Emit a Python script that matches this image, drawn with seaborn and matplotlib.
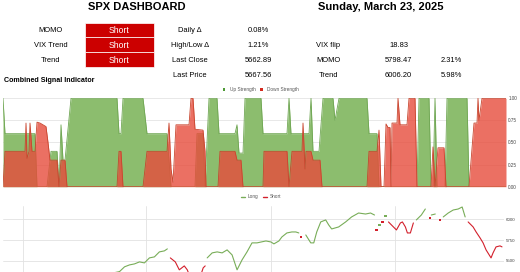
import numpy as np
import pandas as pd
import matplotlib
matplotlib.use("Agg")
import matplotlib.pyplot as plt
from matplotlib.patches import Rectangle
from matplotlib.lines import Line2D
import seaborn as sns

# header
title_left = "SPX DASHBOARD"
title_right = "Sunday, March 23, 2025"
signal_names = ["MOMO", "VIX Trend", "Trend"]
signal_values = ["Short", "Short", "Short"]
stat_names = ["Daily Δ", "High/Low Δ", "Last Close", "Last Price"]
stat_values = ["0.08%", "1.21%", "5662.89", "5667.56"]
level_names = ["VIX flip", "MOMO", "Trend"]
level_values = ["18.83", "5798.47", "6006.20"]
level_pct = ["", "2.31%", "5.98%"]

# combined signal indicator (x = trading day index)
up_day = [0, 1, 16, 17, 22, 24, 27, 28, 29, 30, 31, 34, 57, 58, 59, 60, 70, 72, 82, 84,
          96, 97, 100, 101, 103, 107, 108, 116, 117, 118, 120, 121, 129, 130, 142, 143,
          144, 153, 154, 155, 158, 160, 165, 166, 168, 182, 183, 187, 188, 207, 208, 213,
          214, 215, 216, 217, 221, 222, 232, 233, 251.5]
up_val = [1.0, 0.6, 0.6, 0.0, 0.0, 0.4, 0.4, 0.0, 0.7, 0.3, 0.3, 1.0, 1.0, 0.6, 0.6, 1.0,
          1.0, 0.6, 0.6, 0.0, 0.0, 0.6, 0.6, 0.0, 1.0, 1.0, 0.6, 0.6, 0.7, 0.38, 0.38, 1.0,
          1.0, 0.6, 0.6, 1.0, 0.6, 0.6, 1.0, 0.4, 0.4, 1.0, 1.0, 0.75, 1.0, 1.0, 0.6, 0.6,
          0.0, 0.0, 1.0, 1.0, 0.0, 0.0, 1.0, 0.0, 0.0, 1.0, 1.0, 0.0, 0.0]
down_day = [0, 1, 11, 11.5, 12, 13, 13.5, 14.5, 16, 17, 18.5, 20, 21.5, 22.5, 23.5, 27, 28,
            29, 31, 32, 57, 58, 59, 60, 70, 72, 82, 83, 84, 85, 86.5, 93, 94, 95, 96, 100,
            101, 101.5, 107.5, 108.5, 116, 117, 119, 120, 130, 130.5, 142, 143, 144.5,
            149.5, 150, 151, 151.5, 154, 155, 158.5, 159.5, 182, 183, 187, 188, 189, 190.5,
            191.5, 192.5, 193.5, 194, 194.5, 197, 197.5, 198.5, 202, 203, 206, 207, 214,
            215, 216, 217.5, 220.5, 221.5, 233, 235.5, 237, 237.5, 238, 239.5, 251.5]
down_val = [0.0, 0.4, 0.4, 0.72, 0.32, 0.4, 0.72, 0.4, 0.4, 0.73, 0.72, 0.7, 0.68, 0.5, 0.3,
            0.3, 0.0, 0.3, 0.3, 0.0, 0.0, 0.4, 0.4, 0.0, 0.0, 0.4, 0.4, 0.72, 0.2, 0.05, 0.7,
            0.7, 1.0, 1.0, 0.65, 0.64, 0.4, 0.0, 0.0, 0.4, 0.4, 0.3, 0.3, 0.0, 0.0, 0.4, 0.4,
            0.0, 0.4, 0.4, 0.72, 0.2, 0.4, 0.4, 0.3, 0.3, 0.0, 0.0, 0.4, 0.4, 0.64, 0.0, 0.0,
            0.71, 0.67, 0.67, 0.0, 0.72, 0.72, 1.0, 0.7, 0.7, 1.0, 1.0, 0.0, 0.0, 0.45, 0.0,
            0.44, 0.44, 0.0, 0.0, 0.72, 0.72, 1.0, 0.75, 1.0, 1.0]

# SPX close with Long / Short state
price_day = [0, 8, 16, 24, 32, 40, 48, 54, 58.5, 61, 63.5, 66, 68.5, 71, 73.5, 76, 78.5, 81,
             82.5, 84, 86.5, 88.5, 91, 92.5, 94.5, 96.5, 98.5, 100.5, 101.5, 102.5, 105,
             107.5, 110, 112.5, 115, 117.5, 120, 122.5, 125, 127.5, 132, 134.5, 136, 138.5,
             140, 142.5, 145, 147, 148.5, 149.5, 152, 154.5, 156, 157.5, 159.5, 162, 163.5,
             165, 168.5, 172, 175, 178.5, 182, 184.5, 186.5, 187.5, 189, 190.5, 192, 193.5,
             196, 197.5, 199.5, 200.5, 202, 203, 204.5, 206, 207.5, 210, 212, 214.5, 215,
             217, 219.5, 221, 223.5, 226, 228.5, 230.5, 232, 233.5, 236, 237.5, 239.5, 241,
             242.5, 245, 246, 247.5, 249.5, 250.5]
price_val = [5150, 5220, 5080, 5050, 5200, 5300, 5330, 5350, 5373, 5430, 5453, 5465, 5489,
             5477, 5537, 5549, 5609, 5621, 5645, 5537, 5489, 5394, 5441, 5394, 5274, 5154,
             5274, 5418, 5441, 5537, 5597, 5609, 5597, 5633, 5573, 5394, 5513, 5609, 5717,
             5717, 5740, 5728, 5705, 5740, 5788, 5836, 5848, 5848, 5836, 5788, 5812, 5717,
             5717, 5848, 5968, 5992, 5932, 5884, 5908, 5968, 6028, 6075, 6063, 6075, 6051,
             5872, 5932, 5968, 6039, 5968, 5908, 5872, 5956, 5968, 5908, 5836, 5836, 5956,
             5992, 6051, 6123, 6016, 6051, 6063, 5992, 6028, 6075, 6111, 6123, 6147, 6028,
             5968, 5908, 5848, 5776, 5717, 5633, 5537, 5597, 5669, 5681, 5669]
price_sig = list("LLLLLLLLLLLLLLLLLLL" "SSSSSSSSSS" "LLLLLLLLLLLLLLLLLLLL" "S"
                 "LLLLLLLLLLLLLLL" "S" "L" "S" "L" "SSSSSSSSS" "LLL" "S" "LL" "S"
                 "LLLLLL" "SSSSSSSSSSS")

quarter_days = [10, 72, 134.5, 197]
signal_ticks = [0, 0.25, 0.5, 0.75, 1.0]
price_ticks = [5500, 5750, 6000]

GREEN = "#8cbd6e"
RED = "#e74c3c"
LONG_C = "#78ad58"
SHORT_C = "#d3202c"
W, H = 520, 272

sns.set_theme(style="white")
plt.rcParams['font.family'] = ['Liberation Sans', 'DejaVu Sans']

fig = plt.figure(figsize=(W / 100, H / 100), dpi=100)


def P(x, y):
    return x / W, 1 - y / H


def txt(x, y, s, **kw):
    kw.setdefault("ha", "center")
    kw.setdefault("va", "center")
    kw.setdefault("fontsize", 5.4)
    fig.text(*P(x, y), s, color=kw.pop("color", "black"), **kw)


# header block
txt(137, 7.5, title_left, fontsize=8, fontweight="bold")
txt(381, 7.5, title_right, fontsize=8, fontweight="bold")
row_y = [30.7, 45.2, 60.4, 75.5]
for i, (n, v) in enumerate(zip(signal_names, signal_values)):
    top = 22.7 + i * 14.7
    fig.patches.append(Rectangle(P(85, top + 14.7), 69 / W, 14.7 / H, transform=fig.transFigure,
                                 facecolor="#cc0000", edgecolor="white", lw=0.5))
    txt(50.5, row_y[i], n)
    txt(119.5, row_y[i], v, color="white", fontsize=6.2)
for i, (n, v) in enumerate(zip(stat_names, stat_values)):
    txt(190, row_y[i], n)
    txt(258, row_y[i], v)
for i, (n, v, p) in enumerate(zip(level_names, level_values, level_pct)):
    txt(328.5, row_y[i + 1], n)
    txt(398.5, row_y[i + 1], v)
    if p:
        txt(451, row_y[i + 1], p)
txt(4, 80, "Combined Signal Indicator", ha="left", fontsize=5.1, fontweight="bold")

# legends
fig.patches.append(Rectangle(P(222.7, 90.6), 2.6 / W, 2.6 / H, transform=fig.transFigure,
                             facecolor="#4e9a36", lw=0))
txt(229.5, 89.3, "Up Strength", ha="left", fontsize=3.4, color="#555555")
fig.patches.append(Rectangle(P(260, 90.6), 2.6 / W, 2.6 / H, transform=fig.transFigure,
                             facecolor="#d42a1f", lw=0))
txt(267, 89.3, "Down Strength", ha="left", fontsize=3.4, color="#555555")
fig.lines.append(Line2D([240.7 / W, 245 / W], [1 - 196.7 / H] * 2, transform=fig.transFigure,
                        color=LONG_C, lw=1.0))
txt(247.5, 196.7, "Long", ha="left", fontsize=3.4, color="#555555")
fig.lines.append(Line2D([262.7 / W, 266.7 / W], [1 - 196.7 / H] * 2, transform=fig.transFigure,
                        color=SHORT_C, lw=1.0))
txt(270, 196.7, "Short", ha="left", fontsize=3.4, color="#555555")

# combined signal area chart
ax1 = fig.add_axes([3 / W, 1 - 186.7 / H, 503 / W, 88.4 / H])
ax1.fill_between(up_day, up_val, color=GREEN, lw=0, zorder=2)
sns.lineplot(x=up_day, y=up_val, ax=ax1, color="#6fa653", lw=0.6, estimator=None,
             sort=False, zorder=3)
ax1.fill_between(down_day, down_val, color=RED, alpha=0.8, lw=0, zorder=4)
sns.lineplot(x=down_day, y=down_val, ax=ax1, color="#c8452e", lw=0.6, estimator=None,
             sort=False, zorder=5)
ax1.set_xlim(0, 251.5)
ax1.set_ylim(0, 1)
ax1.set_xticks([])
ax1.yaxis.tick_right()
ax1.set_yticks(signal_ticks)
ax1.set_yticklabels([f"{t:.2f}" for t in signal_ticks])
ax1.tick_params(axis="y", length=0, pad=1.6, labelsize=3.3, labelcolor="#444444")
ax1.grid(axis="y", color="#e4e4e4", lw=0.6, zorder=0)
ax1.set_axisbelow(True)
ax1.set_xlabel("")
ax1.set_ylabel("")
for s in ax1.spines.values():
    s.set_visible(False)

# price chart with long/short segments
df = pd.DataFrame({"day": price_day, "price": price_val, "sig": price_sig})
df["seg"] = (df["sig"] != df["sig"].shift()).cumsum()
seg_len = df.groupby("seg")["day"].transform("size")

ax2 = fig.add_axes([3 / W, 0, 501 / W, 66 / H])
pal = {"L": LONG_C, "S": SHORT_C}
sns.lineplot(data=df[seg_len > 1], x="day", y="price", hue="sig", units="seg",
             estimator=None, sort=False, palette=pal, lw=0.8, legend=False, ax=ax2)
sns.scatterplot(data=df[seg_len == 1], x="day", y="price", hue="sig", palette=pal,
                s=2.5, marker="s", linewidth=0, legend=False, ax=ax2)
ax2.set_xlim(0, 251.5)
ax2.set_ylim(5368, 6159)
ax2.set_xticks(quarter_days)
ax2.set_xticklabels([])
ax2.yaxis.tick_right()
ax2.set_yticks(price_ticks)
ax2.set_yticklabels([str(t) for t in price_ticks])
ax2.tick_params(axis="both", length=0, pad=1.6, labelsize=3.2, labelcolor="#444444")
ax2.grid(True, color="#e2e2e2", lw=0.6)
ax2.set_axisbelow(True)
ax2.set_xlabel("")
ax2.set_ylabel("")
for s in ax2.spines.values():
    s.set_visible(False)

fig.savefig("out.png", dpi=100)
